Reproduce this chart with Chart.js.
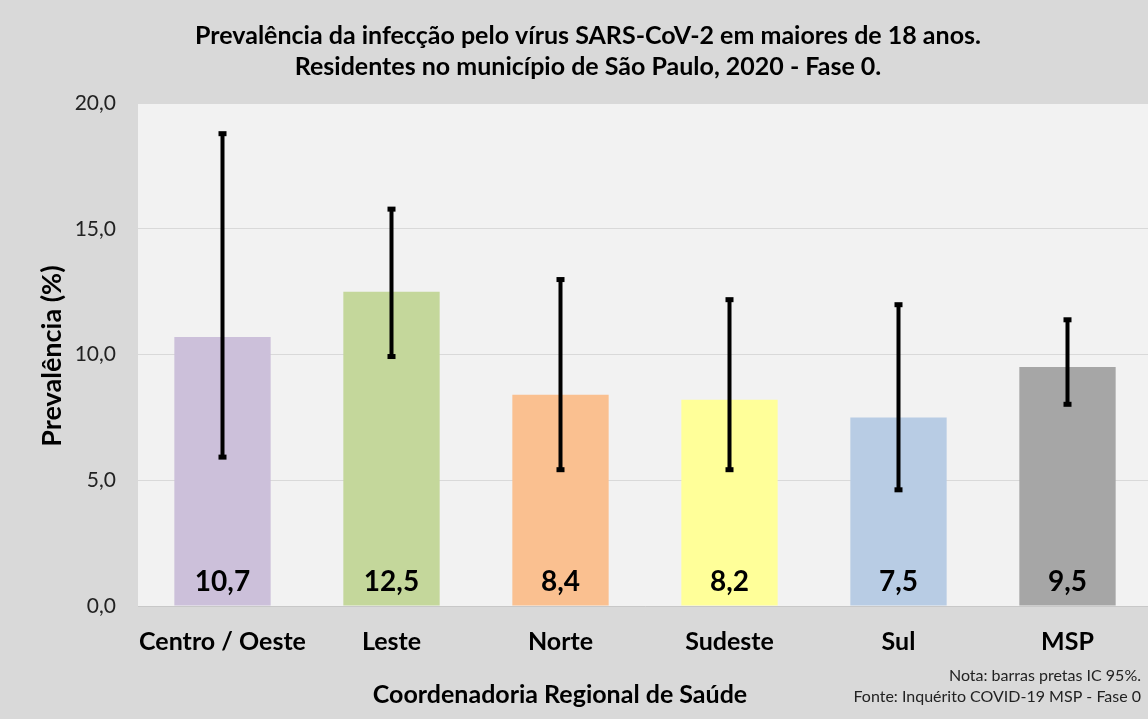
<!DOCTYPE html>
<html lang="pt">
<head>
  <meta charset="UTF-8" />
  <title>Prevalência SARS-CoV-2 - Fase 0</title>
  <script src="https://cdn.jsdelivr.net/npm/chart.js"></script>
  <style>
    html, body { margin: 0; padding: 0; background: #d9d9d9; overflow: hidden; }
    .wrap { width: 1152px; height: 719px; }
  </style>
</head>
<body>
  <div class="wrap"><canvas id="prevChart"></canvas></div>

  <script>
    const regioes = ['Centro / Oeste', 'Leste', 'Norte', 'Sudeste', 'Sul', 'MSP'];
    const prevalencia = [10.7, 12.5, 8.4, 8.2, 7.5, 9.5];
    const icInferior = [5.9, 9.9, 5.4, 5.4, 4.6, 8.0];
    const icSuperior = [18.8, 15.8, 13.0, 12.2, 12.0, 11.4];
    const coresBarras = ['#ccc0da', '#c4d79b', '#fac090', '#ffff99', '#b8cce4', '#a6a6a6'];
    const yTicks = [0, 5, 10, 15, 20];

    const fmt = v => v.toFixed(1).replace('.', ',');
    const FONT = 'Lato, "Open Sans", sans-serif';

    // error bars + value labels + extra texts
    const extras = {
      id: 'extras',
      afterDatasetsDraw(chart) {
        const ctx = chart.ctx;
        const y = chart.scales.y;
        const meta = chart.getDatasetMeta(0);
        ctx.save();
        meta.data.forEach((bar, i) => {
          const yTop = y.getPixelForValue(icSuperior[i]);
          const yBot = y.getPixelForValue(icInferior[i]);
          ctx.strokeStyle = '#000';
          ctx.lineWidth = 4;
          ctx.beginPath();
          ctx.moveTo(bar.x, yTop);
          ctx.lineTo(bar.x, yBot);
          ctx.stroke();
          ctx.fillStyle = '#000';
          ctx.fillRect(bar.x - 4, yTop - 2, 8, 5);
          ctx.fillRect(bar.x - 4, yBot - 3, 8, 5);

          ctx.font = 'bold 28px ' + FONT;
          ctx.textAlign = 'center';
          ctx.textBaseline = 'middle';
          ctx.fillText(fmt(prevalencia[i]), bar.x, y.getPixelForValue(0) - 24);
        });

        // axis titles
        ctx.fillStyle = '#000';
        ctx.font = 'bold 25px ' + FONT;
        ctx.textAlign = 'center';
        ctx.textBaseline = 'middle';
        ctx.fillText('Coordenadoria Regional de Saúde', 560, 695);

        ctx.save();
        ctx.translate(52, 356);
        ctx.rotate(-Math.PI / 2);
        ctx.font = 'bold 27px ' + FONT;
        ctx.fillText('Prevalência (%)', 0, 0);
        ctx.restore();

        ctx.font = '16px ' + FONT;
        ctx.textAlign = 'right';
        ctx.fillStyle = '#222';
        ctx.fillText('Nota: barras pretas IC 95%.', 1141, 676);
        ctx.fillText('Fonte: Inquérito COVID-19 MSP - Fase 0', 1141, 697);
        ctx.restore();
      }
    };

    const plotBg = {
      id: 'plotBg',
      beforeDraw(chart) {
        const { ctx, chartArea: a } = chart;
        ctx.save();
        ctx.fillStyle = '#d9d9d9';
        ctx.fillRect(0, 0, chart.width, chart.height);
        ctx.fillStyle = '#f2f2f2';
        ctx.fillRect(a.left, a.top, a.right - a.left, a.bottom - a.top);
        ctx.restore();
      }
    };

    new Chart(document.getElementById('prevChart'), {
      type: 'bar',
      data: {
        labels: regioes,
        datasets: [{
          data: prevalencia,
          backgroundColor: coresBarras,
          borderWidth: 0,
          categoryPercentage: 1,
          barPercentage: 0.57
        }]
      },
      options: {
        responsive: true,
        maintainAspectRatio: false,
        animation: false,
        layout: { padding: { left: 24, right: 0, top: 0, bottom: 0 } },
        plugins: {
          legend: { display: false },
          tooltip: { enabled: false },
          title: {
            display: true,
            text: ['Prevalência da infecção pelo vírus SARS-CoV-2 em maiores de 18 anos.',
                   'Residentes no município de São Paulo, 2020 - Fase 0.'],
            color: '#000',
            font: { family: FONT, size: 25, weight: 'bold', lineHeight: 1.24 },
            padding: { top: 20, bottom: 21 }
          }
        },
        scales: {
          x: {
            grid: { display: false },
            border: { display: true, color: '#c8c8c8', width: 1 },
            ticks: {
              color: '#000',
              font: { family: FONT, size: 25, weight: 'bold' },
              padding: 13,
              maxRotation: 0,
              minRotation: 0,
              autoSkip: false
            },
            afterFit(scale) { scale.height = 113; }
          },
          y: {
            min: 0,
            max: 20,
            afterBuildTicks(scale) { scale.ticks = yTicks.map(v => ({ value: v })); },
            grid: { color: '#d9d9d9', lineWidth: 1, drawTicks: false },
            border: { display: false },
            ticks: {
              color: '#222',
              font: { family: FONT, size: 21 },
              padding: 22,
              callback: v => fmt(v)
            },
            afterFit(scale) { scale.width = 114; }
          }
        }
      },
      plugins: [plotBg, extras]
    });
  </script>
</body>
</html>
